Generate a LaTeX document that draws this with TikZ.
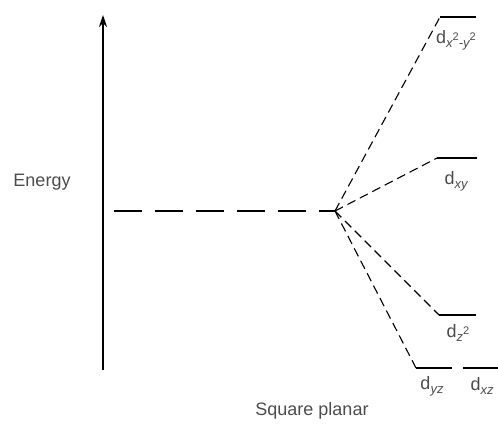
\documentclass[tikz,border=0pt]{standalone}
\usepackage{fontspec}
\setmainfont{Liberation Sans}
\usepackage{tikz}
\usetikzlibrary{arrows.meta}

\newcommand{\orbsub}[1]{\raisebox{-4pt}{\fontsize{13}{14}\selectfont\itshape #1}}
\newcommand{\orbsq}{\raisebox{7pt}{\fontsize{11}{12}\selectfont\upshape 2}}

\begin{document}
\begin{tikzpicture}[x=1pt,y=-1pt,font=\fontsize{18}{20}\selectfont,
  level/.style={line width=1.2pt},
  split/.style={line width=1.1pt,dash pattern=on 9pt off 5pt},
  lbl/.style={text=black!70,inner sep=0pt}]
\useasboundingbox (0,0) rectangle (498,432);

% energy axis
\coordinate (axbot) at (103,370);
\coordinate (axtop) at (103,15);
\draw[-{Stealth[length=12pt,width=8pt]},line width=1.2pt] (axbot) -- (axtop);
\node[lbl] (energy) at (42,182) {Energy};

% degenerate level
\coordinate (d0) at (114,211);
\coordinate (c) at (335,211);
\draw[line width=1.2pt,dash pattern=on 28pt off 13pt] (d0) -- (c);

% split levels
\coordinate (a1) at (440,17);  \coordinate (a2) at (476,17);
\coordinate (b1) at (437,158); \coordinate (b2) at (477,158);
\coordinate (e1) at (439,315); \coordinate (e2) at (476,315);
\coordinate (f1) at (416,368); \coordinate (f2) at (452,368);
\coordinate (g1) at (463,368); \coordinate (g2) at (498,368);
\draw[level] (a1) -- (a2);
\draw[level] (b1) -- (b2);
\draw[level] (e1) -- (e2);
\draw[level] (f1) -- (f2);
\draw[level] (g1) -- (g2);

\draw[split] (c) -- (a1);
\draw[split] (c) -- (b1);
\draw[split] (c) -- (e1);
\draw[split] (c) -- (f1);

\node[lbl] (dx2y2) at (456,40) {d\orbsub{x\orbsq-y\orbsq}};
\node[lbl] (dxy) at (456,181) {d\orbsub{xy}};
\node[lbl] (dz2) at (458,333) {d\orbsub{z\orbsq}};
\node[lbl] (dyz) at (432,386) {d\orbsub{yz}};
\node[lbl] (dxz) at (482,386) {d\orbsub{xz}};

\node[lbl] (sq) at (312,411) {Square planar};
\end{tikzpicture}
\end{document}
